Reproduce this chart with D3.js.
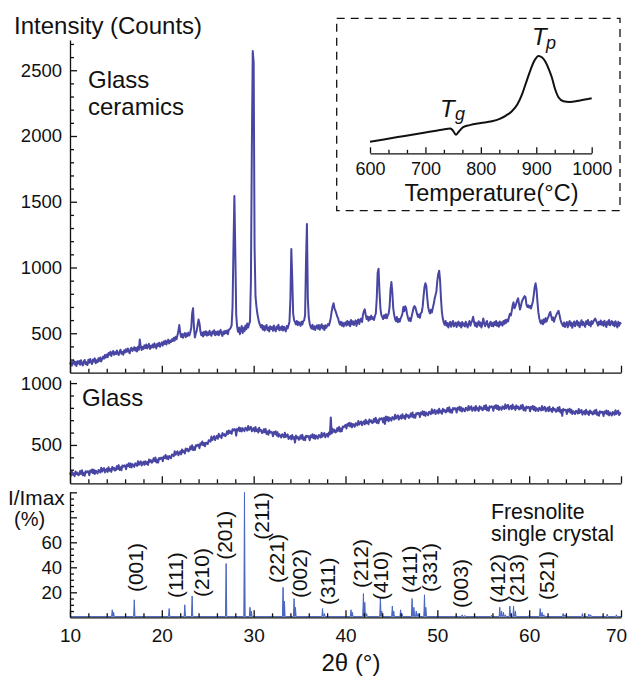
<!DOCTYPE html>
<html lang="en">
<head>
<meta charset="UTF-8">
<title>XRD patterns: glass ceramics, glass, fresnoite</title>
<script src="https://d3js.org/d3.v7.min.js"></script>
<style>
    body { margin: 0; background: #fff; }
    svg { display: block; font-family: "Liberation Sans", Arial, Helvetica, sans-serif; }
    .axis path, .axis line { stroke: #111; stroke-width: 1.3px; }
    .axis text { fill: #111; }
    .trace { fill: none; stroke: #4846a2; stroke-width: 2px; stroke-linejoin: round; }
    .sticks { fill: #4a66c2; stroke: #4a66c2; stroke-width: 1px; stroke-linejoin: round; }
    .dsc { fill: none; stroke: #111; stroke-width: 2px; }
    .lbl { fill: #111; }
</style>
</head>
<body>
<svg width="628" height="678"></svg>
<script>
    // sampling grid of the two measured patterns (2theta in degrees)
    const startDeg = 10;
    const stepDeg = 0.1;

    // glass ceramics, counts, one row per degree (10.0 ... 70.0)
    const ceramicsCounts = [
        262, 284, 254, 278, 292, 262, 282, 251, 287, 270,
        289, 261, 295, 268, 255, 286, 297, 264, 280, 258,
        299, 275, 304, 281, 266, 301, 285, 309, 272, 295,
        280, 310, 290, 315, 285, 304, 322, 307, 334, 315,
        338, 318, 350, 336, 359, 327, 352, 365, 337, 356,
        341, 369, 348, 334, 362, 375, 343, 358, 337, 371,
        354, 378, 359, 384, 363, 348, 381, 390, 365, 378,
        394, 368, 389, 361, 397, 374, 452, 401, 373, 395,
        381, 408, 388, 414, 384, 402, 419, 381, 405, 391,
        415, 392, 423, 400, 385, 420, 404, 428, 397, 417,
        431, 406, 438, 418, 444, 414, 435, 452, 422, 443,
        433, 455, 441, 465, 444, 473, 455, 484, 515, 562,
        505, 472, 495, 466, 491, 502, 470, 498, 479, 505,
        484, 508, 540, 650, 690, 545, 468, 498, 520, 565,
        605, 575, 515, 484, 505, 475, 511, 489, 515, 482,
        508, 487, 519, 494, 481, 514, 498, 523, 485, 510,
        490, 515, 484, 510, 526, 492, 480, 513, 495, 518,
        500, 521, 493, 528, 531, 542, 560, 700, 1150, 1544,
        1120, 640, 548, 511, 543, 493, 533, 555, 501, 541,
        516, 559, 530, 574, 544, 569, 590, 900, 1900, 2646,
        2560, 1150, 780, 705, 650, 612, 580, 562, 544, 563,
        527, 555, 520, 548, 563, 525, 544, 514, 553, 532,
        547, 518, 559, 529, 515, 551, 534, 564, 523, 546,
        526, 554, 520, 549, 531, 514, 555, 537, 560, 590,
        760, 1140, 920, 650, 600, 585, 568, 593, 561, 586,
        573, 556, 588, 567, 593, 598, 640, 1050, 1330, 760,
        620, 575, 549, 536, 564, 530, 553, 524, 550, 560,
        534, 563, 527, 552, 569, 536, 556, 524, 561, 541,
        555, 570, 560, 585, 620, 668, 705, 728, 690, 672,
        650, 628, 612, 583, 566, 587, 557, 581, 551, 575,
        583, 558, 594, 564, 588, 553, 601, 568, 592, 562,
        581, 598, 556, 591, 606, 570, 599, 612, 585, 640,
        668, 682, 640, 608, 628, 594, 623, 604, 634, 608,
        621, 601, 630, 650, 760, 960, 990, 820, 690, 640,
        624, 608, 637, 616, 644, 614, 635, 650, 700, 830,
        890, 810, 690, 640, 608, 592, 623, 584, 608, 588,
        613, 628, 650, 700, 668, 705, 690, 648, 618, 596,
        615, 592, 628, 658, 690, 706, 698, 672, 645, 624,
        643, 618, 651, 660, 700, 780, 850, 880, 860, 770,
        700, 668, 651, 678, 658, 690, 720, 760, 790, 820,
        900, 950, 976, 900, 760, 660, 610, 582, 564, 593,
        557, 578, 544, 572, 587, 549, 575, 593, 553, 569,
        582, 547, 573, 589, 556, 577, 543, 585, 559, 574,
        551, 587, 562, 544, 575, 593, 557, 580, 598, 625,
        585, 556, 581, 548, 573, 591, 557, 582, 544, 569,
        612, 580, 553, 577, 593, 558, 544, 574, 588, 555,
        577, 552, 586, 563, 593, 556, 581, 549, 589, 565,
        583, 558, 594, 571, 601, 579, 605, 590, 622, 648,
        635, 668, 712, 735, 690, 705, 728, 752, 766, 720,
        680, 705, 740, 755, 770, 782, 776, 720, 700, 712,
        695, 708, 688, 715, 740, 790, 850, 880, 835, 740,
        660, 615, 586, 575, 599, 568, 606, 581, 615, 590,
        611, 625, 648, 662, 630, 601, 621, 588, 613, 630,
        645, 660, 670, 640, 606, 582, 567, 554, 582, 548,
        569, 586, 545, 575, 593, 557, 581, 541, 572, 589,
        553, 578, 595, 559, 583, 546, 574, 599, 561, 585,
        566, 549, 592, 570, 601, 563, 584, 552, 593, 571,
        588, 603, 612, 595, 577, 558, 588, 567, 597, 564,
        586, 556, 595, 571, 547, 589, 566, 601, 560, 582,
        593, 562, 584, 553, 592, 568, 544, 587, 557, 580,
        568
    ];

    // glass, counts, same grid
    const glassCounts = [
        277, 251, 288, 259, 271, 247, 286, 265, 276, 255,
        260, 290, 266, 296, 255, 276, 251, 288, 277, 287,
        285, 255, 293, 280, 302, 272, 299, 265, 292, 282,
        270, 298, 292, 277, 316, 285, 304, 313, 278, 296,
        308, 282, 320, 291, 305, 282, 322, 302, 315, 293,
        298, 329, 305, 337, 297, 320, 296, 334, 324, 335,
        332, 303, 341, 328, 352, 322, 350, 318, 345, 336,
        323, 351, 346, 331, 369, 339, 358, 368, 334, 352,
        364, 339, 368, 347, 362, 339, 382, 363, 377, 356,
        362, 393, 370, 399, 359, 381, 357, 395, 385, 396,
        397, 368, 407, 394, 419, 389, 408, 384, 411, 402,
        392, 423, 420, 410, 449, 420, 437, 448, 416, 435,
        448, 424, 464, 442, 453, 431, 471, 455, 469, 448,
        455, 487, 465, 497, 458, 482, 459, 498, 489, 501,
        502, 474, 514, 502, 528, 498, 516, 490, 518, 514,
        507, 538, 536, 527, 568, 540, 558, 571, 539, 559,
        574, 550, 590, 567, 575, 555, 596, 578, 588, 571,
        580, 611, 589, 617, 597, 610, 590, 627, 617, 628,
        622, 575, 630, 618, 641, 610, 636, 609, 635, 624,
        612, 639, 633, 617, 654, 622, 641, 646, 610, 626,
        637, 609, 645, 613, 626, 601, 639, 615, 621, 597,
        600, 627, 602, 630, 589, 609, 583, 619, 599, 606,
        602, 570, 605, 590, 610, 577, 602, 566, 587, 575,
        560, 586, 579, 562, 598, 564, 576, 585, 548, 562,
        572, 545, 581, 551, 564, 520, 576, 555, 565, 542,
        546, 576, 552, 582, 541, 562, 538, 575, 564, 573,
        569, 538, 576, 562, 586, 554, 581, 549, 576, 565,
        552, 580, 575, 560, 598, 567, 586, 596, 562, 579,
        590, 566, 601, 585, 722, 592, 630, 607, 623, 601,
        605, 636, 614, 645, 608, 632, 610, 650, 642, 653,
        662, 632, 670, 656, 680, 650, 675, 642, 670, 660,
        647, 676, 671, 658, 693, 665, 679, 690, 660, 678,
        692, 666, 704, 675, 690, 667, 705, 687, 699, 677,
        682, 712, 688, 719, 678, 700, 676, 714, 705, 716,
        712, 682, 720, 670, 730, 699, 726, 692, 721, 709,
        697, 725, 720, 706, 744, 713, 730, 740, 705, 722,
        737, 711, 749, 719, 734, 710, 749, 730, 741, 719,
        725, 755, 730, 762, 721, 742, 720, 757, 748, 760,
        755, 725, 763, 748, 772, 741, 768, 735, 762, 752,
        740, 768, 763, 749, 788, 756, 774, 784, 750, 767,
        780, 754, 792, 762, 776, 752, 792, 772, 784, 762,
        768, 798, 773, 805, 763, 784, 760, 798, 787, 798,
        793, 762, 800, 786, 809, 777, 804, 770, 795, 784,
        772, 800, 794, 779, 815, 784, 802, 812, 776, 793,
        804, 777, 814, 785, 798, 774, 813, 792, 804, 781,
        786, 816, 791, 822, 780, 802, 777, 813, 803, 812,
        807, 776, 814, 799, 822, 790, 817, 782, 807, 796,
        784, 812, 806, 790, 828, 796, 814, 824, 788, 805,
        816, 789, 826, 796, 809, 783, 820, 799, 810, 787,
        790, 819, 794, 824, 781, 802, 776, 811, 799, 807,
        803, 772, 809, 793, 815, 783, 809, 774, 798, 788,
        774, 801, 795, 779, 814, 782, 799, 809, 772, 789,
        800, 772, 809, 779, 791, 766, 803, 782, 791, 768,
        772, 800, 775, 806, 763, 783, 735, 791, 778, 786,
        782, 750, 787, 771, 793, 760, 785, 750, 773, 763,
        750, 776, 770, 754, 790, 758, 773, 783, 745, 762,
        774, 747, 784, 754, 767, 742, 779, 758, 770, 747,
        750, 779, 754, 785, 743, 762, 736, 772, 760, 769,
        765, 734, 771, 756, 779, 747, 774, 739, 763, 752,
        739, 766, 760, 744, 781, 750, 767, 777, 741, 757,
        760
    ];

    // fresnoite single crystal reference lines: 2theta and I/Imax (%)
    const stickPos = [14.6, 14.75, 17.0, 20.8, 22.5, 23.3, 27.0, 29.0, 29.6, 29.75,
        33.2, 33.35, 34.4, 34.55, 37.5, 37.7, 40.6, 40.75, 41.95, 42.1, 42.3,
        43.8, 43.95, 45.1, 45.25, 46.0, 46.15, 47.25, 47.45, 47.7, 47.9,
        48.6, 48.75, 52.7, 53.0, 55.9, 56.8, 57.0, 57.2, 57.4, 57.9, 58.3, 58.5,
        60.0, 61.2, 61.4, 61.6, 63.7, 63.9, 65.8, 66.5, 66.7, 68.5, 69.5];
    const stickPct = [6, 4, 14, 7, 10, 17, 43, 100, 8, 5,
        24, 13, 15, 8, 7, 3, 6, 4, 19, 12, 3,
        16, 5, 9, 5, 6, 3, 15, 8, 5, 3,
        18, 8, 2, 1.5, 1.5, 8, 5, 4, 2, 9, 9, 5,
        1.5, 7, 4, 2, 3, 2, 3, 2.5, 2, 2.5, 2];

    // Miller index labels: name, 2theta, lower end of the label (I/Imax %)
    const hklNames = ["(001)", "(111)", "(210)", "(201)", "(211)", "(221)", "(002)", "(311)",
        "(212)", "(410)", "(411)", "(331)", "(003)", "(412)", "(213)", "(521)"];
    const hklPos = [17.08, 21.5, 24.3, 26.8, 30.8, 32.5, 35.0, 38.0,
        41.6, 43.8, 47.0, 49.2, 52.5, 56.5, 58.6, 61.9];
    const hklBase = [20.2, 15.4, 16.2, 46, 62, 27.4, 15.4, 9.8,
        23.4, 13.8, 19.4, 20.2, 7.4, 11.4, 11.4, 13.8];

    // DSC inset curve (temperature in C, heat flow in arbitrary units)
    const dscTemp = [600, 650, 700, 730, 745, 750, 755, 760, 768, 780, 800, 820, 834, 846, 856,
        866, 875, 883, 890, 897, 904, 910, 916, 922, 928, 934, 940, 949, 960, 979, 1000];
    const dscSignal = [1.16, 1.62, 2.08, 2.36, 2.47, 2.25, 1.85, 2.15, 2.62, 2.82, 3.02, 3.2, 3.45, 3.8, 4.2,
        4.9, 6.0, 7.3, 8.4, 9.3, 9.73, 9.6, 9.2, 8.5, 7.6, 6.4, 5.6, 5.2, 5.12, 5.28, 5.5];

    // ticks
    const xMajor = [10, 20, 30, 40, 50, 60, 70];
    const xMinor = [12, 14, 16, 18, 22, 24, 26, 28, 32, 34, 36, 38, 42, 44, 46, 48, 52, 54, 56, 58, 62, 64, 66, 68];
    const topMajor = [500, 1000, 1500, 2000, 2500];
    const topMinor = [300, 400, 600, 700, 800, 900, 1100, 1200, 1300, 1400, 1600, 1700, 1800, 1900,
        2100, 2200, 2300, 2400, 2600, 2700];
    const midMajor = [500, 1000];
    const midMinor = [300, 400, 600, 700, 800, 900];
    const botMajor = [20, 40, 60, 80, 100];
    const botLabels = [20, 40, 60];
    const botMinor = [5, 10, 15, 25, 30, 35, 45, 50, 55, 65, 70, 75, 85, 90, 95];
    const tMajor = [600, 700, 800, 900, 1000];
    const tMinor = [633.3, 666.7, 733.3, 766.7, 833.3, 866.7, 933.3, 966.7];

    const svg = d3.select("svg");
    const fontFamily = '"Liberation Sans", Arial, Helvetica, sans-serif';

    const x = d3.scaleLinear().domain([10, 70]).range([70, 621]);
    const yTop = d3.scaleLinear().domain([200, 2730]).range([372.7, 40]);
    const yMid = d3.scaleLinear().domain([190, 1025]).range([483.3, 380]);
    const yBot = d3.scaleLinear().domain([0, 100.5]).range([617.3, 491.7]);

    // d3.axis writes its own font attributes, so restyle after the call
    function drawAxis(transform, axis, size) {
        const g = svg.append("g").attr("transform", transform).call(axis);
        g.attr("class", "axis").attr("font-family", fontFamily).attr("font-size", size);
        return g;
    }

    function xAxis(y0, withLabels) {
        const g = drawAxis(`translate(0,${y0})`,
            d3.axisBottom(x).tickValues(xMajor).tickSize(-7).tickSizeOuter(0).tickPadding(11)
                .tickFormat(withLabels ? d3.format("d") : ""), 19);
        // last label sits just inside the page edge, as in the source figure
        g.selectAll(".tick text").filter(d => d === 70).attr("dx", -5);
        drawAxis(`translate(0,${y0})`,
            d3.axisBottom(x).tickValues(xMinor).tickSize(-4).tickFormat(""), 19)
            .select(".domain").remove();
    }

    function yAxis(scale, major, minor, labels) {
        drawAxis("translate(70,0)",
            d3.axisLeft(scale).tickValues(major).tickSize(-7).tickSizeOuter(0).tickPadding(8)
                .tickFormat(d => labels.includes(d) ? d : ""), 18.5);
        drawAxis("translate(70,0)",
            d3.axisLeft(scale).tickValues(minor).tickSize(-4).tickFormat(""), 18.5)
            .select(".domain").remove();
    }

    // measured traces
    const traceLine = scale => d3.line()
        .x((d, i) => x(startDeg + i * stepDeg))
        .y(d => scale(d));

    svg.append("path").attr("class", "trace").attr("d", traceLine(yTop)(ceramicsCounts));
    svg.append("path").attr("class", "trace").attr("d", traceLine(yMid)(glassCounts));

    // stick pattern
    const stickPts = [[10, 0.6]];
    stickPos.forEach((p, i) => {
        stickPts.push([p - 0.07, 0.6], [p, stickPct[i]], [p + 0.07, 0.6]);
    });
    stickPts.push([70, 0.6]);
    svg.append("path").attr("class", "sticks")
        .attr("d", d3.line().x(d => x(d[0])).y(d => yBot(d[1]))(stickPts));

    // axes
    xAxis(372.7, false);
    xAxis(483.3, false);
    xAxis(617.3, true);
    yAxis(yTop, topMajor, topMinor, topMajor);
    yAxis(yMid, midMajor, midMinor, midMajor);
    yAxis(yBot, botMajor, botMinor, botLabels);

    // hkl labels
    svg.append("g").selectAll("text")
        .data(hklNames)
        .join("text")
        .attr("class", "lbl")
        .attr("font-size", 21)
        .attr("dominant-baseline", "central")
        .attr("transform", (d, i) => `translate(${x(hklPos[i])},${yBot(hklBase[i])}) rotate(-90)`)
        .text(d => d);

    // texts
    const addText = (tx, ty, str, size, anchor, style) => svg.append("text")
        .attr("class", "lbl").attr("x", tx).attr("y", ty)
        .attr("font-size", size).attr("text-anchor", anchor || "start")
        .attr("font-style", style || "normal").text(str);

    addText(14, 33.5, "Intensity (Counts)", 24);
    addText(88, 88, "Glass", 24);
    addText(88, 115, "ceramics", 24);
    addText(82, 406, "Glass", 24);
    addText(8, 505, "I/Imax", 20.8);
    addText(14, 526, "(%)", 20);
    addText(491, 519, "Fresnolite", 21.3);
    addText(491, 541, "single crystal", 21.3);
    addText(351, 671, "2\u03b8 (\u00b0)", 24, "middle");

    // DSC inset
    svg.append("rect")
        .attr("x", 336.7).attr("y", 18.3).attr("width", 283.3).attr("height", 192.4)
        .attr("fill", "none").attr("stroke", "#111").attr("stroke-width", 1.3)
        .attr("stroke-dasharray", "8,6");

    const xT = d3.scaleLinear().domain([600, 1000]).range([370, 591.7]);
    const yT = d3.scaleLinear().domain([0, 10]).range([153.3, 53.3]);

    drawAxis("translate(0,153.3)",
        d3.axisBottom(xT).tickValues(tMajor).tickSize(-6).tickSizeOuter(0).tickPadding(9)
            .tickFormat(d3.format("d")), 18);
    drawAxis("translate(0,153.3)",
        d3.axisBottom(xT).tickValues(tMinor).tickSize(-3.5).tickFormat(""), 18)
        .select(".domain").remove();

    svg.append("path").attr("class", "dsc")
        .attr("d", d3.line().x(d => xT(d)).y((d, i) => yT(dscSignal[i])).curve(d3.curveMonotoneX)(dscTemp));

    addText(491.5, 200.5, "Temperature(\u00b0C)", 23.5, "middle");
    addText(440, 117, "T", 24, "start", "italic");
    addText(455, 119.5, "g", 18, "start", "italic");
    addText(532, 45, "T", 24, "start", "italic");
    addText(546, 49, "p", 18, "start", "italic");
</script>
</body>
</html>
